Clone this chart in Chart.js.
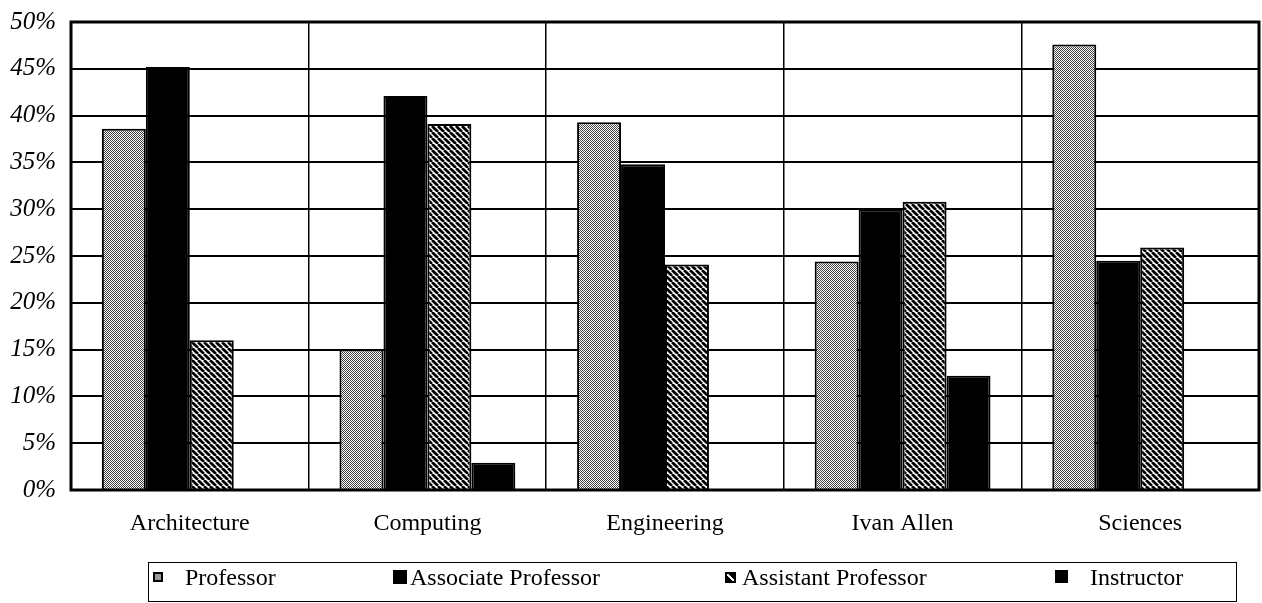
<!DOCTYPE html>
<html>
<head>
<meta charset="utf-8">
<script src="https://cdn.jsdelivr.net/npm/chart.js@4.4.1/dist/chart.umd.min.js"></script>
<style>
  body { margin: 0; background: #fff; }
  #wrap { position: relative; width: 1262px; height: 603px; }
  #legendBox {
    position: absolute; left: 148px; top: 562px; width: 1089px; height: 40px;
    border: 1.5px solid #000; box-sizing: border-box;
  }
  .lg {
    position: absolute; top: 565px; font-family: "Liberation Serif", "Times New Roman", serif;
    font-size: 24px; line-height: 24px; color: #000; white-space: nowrap;
  }
  .mk { position: absolute; box-sizing: border-box; }
</style>
</head>
<body>
<div id="wrap">
  <canvas id="idChart" width="1262" height="603"></canvas>
  <div id="legendBox"></div>
  <div class="mk" style="left:153px;top:572px;width:10px;height:10px;border:2px solid #000;background:#999;"></div>
  <span class="lg" style="left:185px;">Professor</span>
  <div class="mk" style="left:393px;top:570px;width:14px;height:14px;background:#000;"></div>
  <span class="lg" style="left:410px;">Associate Professor</span>
  <div class="mk" style="left:725px;top:572px;width:11px;height:11px;border:2px solid #000;background:linear-gradient(45deg,#000 40%,#fff 40%,#fff 60%,#000 60%);"></div>
  <span class="lg" style="left:742px;">Assistant Professor</span>
  <div class="mk" style="left:1055px;top:570px;width:13px;height:13px;background:#000;"></div>
  <span class="lg" style="left:1090px;">Instructor</span>
</div>
<script>
    const categories = ['Architecture', 'Computing', 'Engineering', 'Ivan Allen', 'Sciences'];
    const professor = [38.6, 15.0, 39.3, 24.4, 47.6];
    const associate = [45.2, 42.1, 34.8, 30.0, 24.5];
    const assistant = [16.0, 39.1, 24.1, 30.8, 25.9];
    const instructor = [0, 2.9, 0, 12.2, 0];
    const seriesNames = ['Professor', 'Associate Professor', 'Assistant Professor', 'Instructor'];

    // gray speckle fill like the scanned print
    function dotPattern() {
        var c = document.createElement('canvas');
        c.width = 4; c.height = 4;
        var g = c.getContext('2d');
        g.fillStyle = '#fff';
        g.fillRect(0, 0, 4, 4);
        g.fillStyle = '#444';
        for (var y = 0; y < 4; y++) {
            for (var x = 0; x < 4; x++) {
                if ((x + y) % 2 == 0) g.fillRect(x, y, 1, 1);
            }
        }
        return g.createPattern(c, 'repeat');
    }

    // diagonal hatch, top-left to bottom-right
    function hatchPattern() {
        var s = 6;
        var c = document.createElement('canvas');
        c.width = s; c.height = s;
        var g = c.getContext('2d');
        g.fillStyle = '#fff';
        g.fillRect(0, 0, s, s);
        g.strokeStyle = '#000';
        g.lineWidth = 2.7;
        for (var k = -1; k <= 1; k++) {
            g.beginPath();
            g.moveTo(k * s, 0);
            g.lineTo(k * s + s, s);
            g.stroke();
        }
        return g.createPattern(c, 'repeat');
    }

    const serif = '"Liberation Serif", "Times New Roman", serif';

    var framePlugin = {
        id: 'frame',
        afterDatasetsDraw: function (chart) {
            var a = chart.chartArea;
            var ctx = chart.ctx;
            ctx.save();
            ctx.strokeStyle = '#000';
            ctx.lineWidth = 3;
            ctx.strokeRect(a.left, a.top, a.right - a.left, a.bottom - a.top);
            ctx.restore();
        }
    };

    var data = {
        labels: categories,
        datasets: [
            { label: seriesNames[0], data: professor, backgroundColor: dotPattern(), borderColor: '#000', borderWidth: 2 },
            { label: seriesNames[1], data: associate, backgroundColor: '#000', borderColor: '#000', borderWidth: 2 },
            { label: seriesNames[2], data: assistant, backgroundColor: hatchPattern(), borderColor: '#000', borderWidth: 2 },
            { label: seriesNames[3], data: instructor, backgroundColor: '#000', borderColor: '#000', borderWidth: 2 }
        ]
    };

    var ctx = document.getElementById('idChart').getContext('2d');
    var idChart = new Chart(ctx, {
        type: 'bar',
        data: data,
        plugins: [framePlugin],
        options: {
            responsive: false,
            animation: false,
            layout: { padding: { top: 22, right: 3, left: 0, bottom: 0 } },
            datasets: { bar: { categoryPercentage: 0.74, barPercentage: 1.0 } },
            plugins: {
                legend: { display: false },
                tooltip: { enabled: false }
            },
            scales: {
                x: {
                    grid: { offset: true, color: '#000', lineWidth: 1.5, drawTicks: false },
                    border: { display: false },
                    ticks: { color: '#000', padding: 19, font: { family: serif, size: 24 } },
                    afterFit: function (scale) { scale.height = 113; }
                },
                y: {
                    min: 0,
                    max: 50,
                    grid: { color: '#000', lineWidth: 2, drawTicks: false },
                    border: { display: false },
                    ticks: {
                        stepSize: 5,
                        color: '#000',
                        padding: 15,
                        font: { family: serif, size: 25, style: 'italic' },
                        callback: function (v) { return v + '%'; }
                    },
                    afterFit: function (scale) {
                        scale.width = 71;
                        scale.paddingTop = 0;
                        scale.paddingBottom = 0;
                    }
                }
            }
        }
    });
</script>
</body>
</html>
